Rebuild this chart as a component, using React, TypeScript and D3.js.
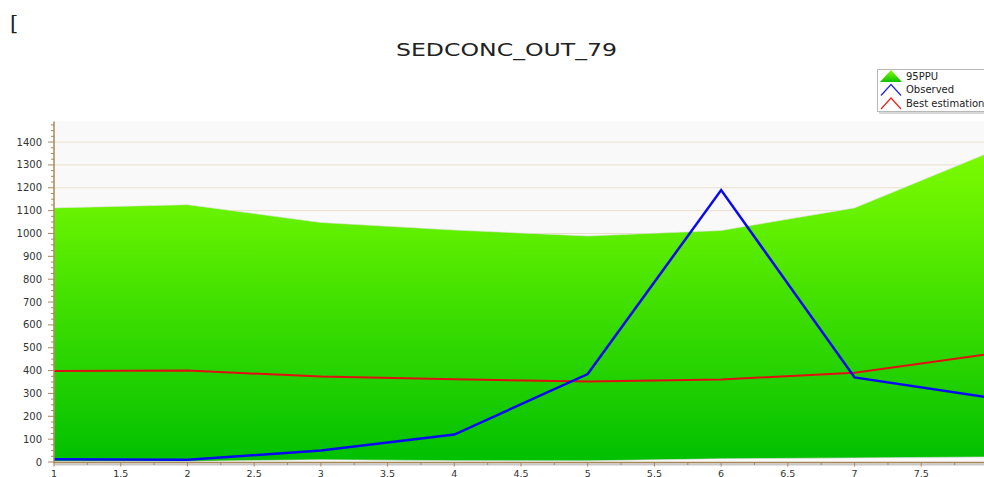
import * as d3 from 'd3';
import { useEffect, useRef } from 'react';

const xs = [1, 2, 3, 4, 5, 6, 7, 8];
const ppuUpper = [1112, 1126, 1048, 1015, 989, 1013, 1112, 1352];
const ppuLower = [3, 3, 10, 6, 5, 14, 18, 22];
const observed = [12, 10, 50, 120, 385, 1190, 370, 283];
const bestEstimation = [398, 400, 374, 362, 352, 361, 391, 472];
const yTicks = [0, 100, 200, 300, 400, 500, 600, 700, 800, 900, 1000, 1100, 1200, 1300, 1400];
const xTicks = [1, 1.5, 2, 2.5, 3, 3.5, 4, 4.5, 5, 5.5, 6, 6.5, 7, 7.5];
const legendItems = ['95PPU', 'Observed', 'Best estimation'];

function App() {
  const svgRef = useRef<SVGSVGElement>(null);

  useEffect(() => {
    const svg = d3.select(svgRef.current);
    svg.selectAll('*').remove();

    const width = 984;
    const height = 477;
    const margin = { top: 121.5, right: -4, bottom: 15, left: 54 };

    const x = d3.scaleLinear().domain([1, 8]).range([margin.left, width - margin.right]);
    const y = d3.scaleLinear().domain([0, 1490]).range([height - margin.bottom, margin.top]);

    const defs = svg.append('defs');
    const grad = defs.append('linearGradient')
      .attr('id', 'ppuGrad')
      .attr('gradientUnits', 'userSpaceOnUse')
      .attr('x1', 0).attr('x2', 0)
      .attr('y1', y(1490)).attr('y2', y(0));
    grad.append('stop').attr('offset', '0%').attr('stop-color', '#86ff00');
    grad.append('stop').attr('offset', '30%').attr('stop-color', '#62f000');
    grad.append('stop').attr('offset', '100%').attr('stop-color', '#00c000');

    const iconGrad = defs.append('linearGradient')
      .attr('id', 'iconGrad').attr('x1', 0).attr('x2', 0).attr('y1', 0).attr('y2', 1);
    iconGrad.append('stop').attr('offset', '0%').attr('stop-color', '#80ff00');
    iconGrad.append('stop').attr('offset', '100%').attr('stop-color', '#10c000');

    // stray bracket top-left
    svg.append('text')
      .attr('x', 10).attr('y', 30)
      .attr('font-family', 'DejaVu Serif, serif')
      .attr('font-size', 21)
      .attr('fill', '#222')
      .text('[');

    // title
    svg.append('text')
      .attr('x', 396).attr('y', 56)
      .attr('font-family', 'DejaVu Sans, sans-serif')
      .attr('font-size', 18)
      .attr('textLength', 221)
      .attr('lengthAdjust', 'spacingAndGlyphs')
      .attr('fill', '#222')
      .text('SEDCONC_OUT_79');

    // plot background
    svg.append('rect')
      .attr('x', margin.left).attr('y', margin.top)
      .attr('width', width - margin.right - margin.left)
      .attr('height', y(0) - margin.top)
      .attr('fill', '#f9f9f9');

    // grid
    svg.append('g')
      .selectAll('line')
      .data(yTicks.slice(1))
      .join('line')
      .attr('x1', margin.left).attr('x2', width)
      .attr('y1', d => y(d)).attr('y2', d => y(d))
      .attr('stroke', '#eadfcc')
      .attr('stroke-width', 1);

    const pts = xs.map((v, i) => ({ x: v, lo: ppuLower[i], hi: ppuUpper[i], obs: observed[i], best: bestEstimation[i] }));

    const area = d3.area<any>()
      .x(d => x(d.x))
      .y0(d => y(d.lo))
      .y1(d => y(d.hi));

    svg.append('path')
      .datum(pts)
      .attr('fill', 'url(#ppuGrad)')
      .attr('stroke', '#e0e0e0')
      .attr('stroke-width', 0.6)
      .attr('d', area);

    const lineObs = d3.line<any>().x(d => x(d.x)).y(d => y(d.obs));
    const lineBest = d3.line<any>().x(d => x(d.x)).y(d => y(d.best));

    svg.append('path')
      .datum(pts)
      .attr('fill', 'none')
      .attr('stroke', '#e01010')
      .attr('stroke-width', 2)
      .attr('d', lineBest);

    svg.append('path')
      .datum(pts)
      .attr('fill', 'none')
      .attr('stroke', '#0a0af0')
      .attr('stroke-width', 2.5)
      .attr('d', lineObs);

    const axisColor = '#a8885a';

    // y axis
    const yAxis = svg.append('g');
    yAxis.append('line')
      .attr('x1', margin.left).attr('x2', margin.left)
      .attr('y1', margin.top).attr('y2', y(0) + 1)
      .attr('stroke', axisColor).attr('stroke-width', 1.5);
    yAxis.selectAll('line.minor')
      .data(d3.range(0, 1490, 25).filter(v => v % 100 !== 0))
      .join('line')
      .attr('class', 'minor')
      .attr('x1', margin.left - 3).attr('x2', margin.left)
      .attr('y1', d => y(d)).attr('y2', d => y(d))
      .attr('stroke', axisColor);
    yAxis.selectAll('line.major')
      .data(yTicks)
      .join('line')
      .attr('class', 'major')
      .attr('x1', margin.left - 6).attr('x2', margin.left)
      .attr('y1', d => y(d)).attr('y2', d => y(d))
      .attr('stroke', axisColor);
    yAxis.selectAll('text')
      .data(yTicks)
      .join('text')
      .attr('x', 42).attr('y', d => y(d) + 3.5)
      .attr('text-anchor', 'end')
      .attr('font-family', 'DejaVu Sans, sans-serif')
      .attr('font-size', 10)
      .attr('fill', '#333')
      .text(d => d);

    // x axis
    const axisY = y(0) + 0.5;
    const xAxis = svg.append('g');
    xAxis.append('line')
      .attr('x1', margin.left).attr('x2', width)
      .attr('y1', axisY + 2).attr('y2', axisY + 2)
      .attr('stroke', '#c8c8c8').attr('stroke-width', 2);
    xAxis.append('line')
      .attr('x1', margin.left - 1).attr('x2', width)
      .attr('y1', axisY).attr('y2', axisY)
      .attr('stroke', axisColor).attr('stroke-width', 1.5);
    xAxis.selectAll('line.minor')
      .data(d3.range(1.25, 8, 0.5))
      .join('line')
      .attr('class', 'minor')
      .attr('x1', d => x(d)).attr('x2', d => x(d))
      .attr('y1', axisY).attr('y2', axisY + 2.5)
      .attr('stroke', axisColor);
    xAxis.selectAll('line.major')
      .data(xTicks)
      .join('line')
      .attr('class', 'major')
      .attr('x1', d => x(d)).attr('x2', d => x(d))
      .attr('y1', axisY).attr('y2', axisY + 4)
      .attr('stroke', axisColor);
    xAxis.selectAll('text')
      .data(xTicks)
      .join('text')
      .attr('x', d => x(d)).attr('y', 476.5)
      .attr('text-anchor', 'middle')
      .attr('font-family', 'DejaVu Sans, sans-serif')
      .attr('font-size', 9.5)
      .attr('fill', '#333')
      .text(d => d);

    // legend
    const lg = svg.append('g');
    lg.append('rect')
      .attr('x', 879).attr('y', 71)
      .attr('width', 120).attr('height', 43)
      .attr('fill', '#d8d8d8');
    lg.append('rect')
      .attr('x', 877.5).attr('y', 69.5)
      .attr('width', 120).attr('height', 42)
      .attr('fill', '#ffffff')
      .attr('stroke', '#b8b8b8');
    const rows = legendItems.map((t, i) => ({ t, i, cy: 76 + i * 13.5 }));
    rows.forEach(r => {
      if (r.i === 0) {
        lg.append('path')
          .attr('d', `M880,${r.cy + 6} L891,${r.cy - 6} L902,${r.cy + 6} Z`)
          .attr('fill', 'url(#iconGrad)');
      } else {
        lg.append('path')
          .attr('d', `M881,${r.cy + 6} L891,${r.cy - 5} L901,${r.cy + 6}`)
          .attr('fill', 'none')
          .attr('stroke', r.i === 1 ? '#2020f0' : '#f02020')
          .attr('stroke-width', 1.2);
      }
      lg.append('text')
        .attr('x', 906).attr('y', r.cy + 3.5)
        .attr('font-family', 'DejaVu Sans, sans-serif')
        .attr('font-size', 10)
        .attr('fill', '#222')
        .text(r.t);
    });
  }, []);

  return (
    <div style={{ position: 'absolute', left: 0, top: 0, width: 984, height: 477, overflow: 'hidden' }}>
      <svg ref={svgRef} width={984} height={477} style={{ display: 'block' }} />
    </div>
  );
}

export default App;
